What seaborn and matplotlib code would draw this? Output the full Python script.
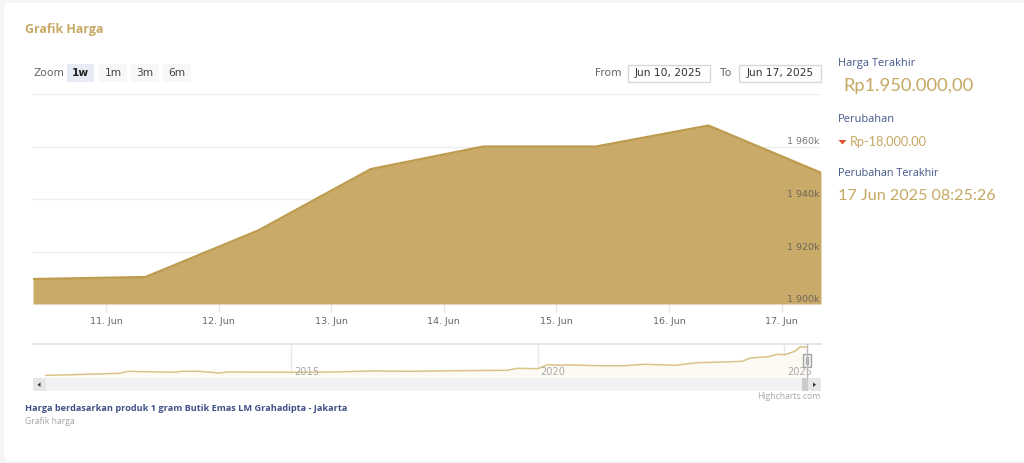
"""Gold price widget: 1 week area chart with a navigator strip."""

import matplotlib

matplotlib.use("Agg")

import matplotlib.dates as mdates
import matplotlib.pyplot as plt
import pandas as pd
import seaborn as sns
from matplotlib.patches import FancyBboxPatch, Polygon, Rectangle

# main chart, price in thousand rupiah
price_times = [
    "2025-06-10 08:25", "2025-06-11 08:25", "2025-06-12 08:25", "2025-06-13 08:25",
    "2025-06-14 08:25", "2025-06-15 08:25", "2025-06-16 08:25", "2025-06-17 08:25",
]
price_values = [1909.5, 1910.3, 1928, 1951.4, 1960, 1960, 1968, 1950]
day_ticks = ["2025-06-11", "2025-06-12", "2025-06-13", "2025-06-14", "2025-06-15", "2025-06-16", "2025-06-17"]
day_labels = ["11. Jun", "12. Jun", "13. Jun", "14. Jun", "15. Jun", "16. Jun", "17. Jun"]
price_ticks = [1900, 1920, 1940, 1960, 1980]
price_labels = ["1 900k", "1 920k", "1 940k", "1 960k", ""]

# navigator, long history
nav_times = [
    "2010-01-10", "2010-05-15", "2011-07-10", "2011-09-10", "2012-08-10", "2012-10-15",
    "2013-02-20", "2013-07-20", "2013-09-15", "2014-12-25", "2015-11-05", "2016-08-05",
    "2017-06-20", "2018-05-15", "2019-05-20", "2019-08-05", "2020-01-01", "2020-03-20",
    "2020-06-15", "2020-08-10", "2021-03-25", "2021-10-05", "2022-03-05", "2022-10-15",
    "2023-03-25", "2023-10-05", "2024-02-25", "2024-04-25", "2024-09-05", "2024-11-10",
    "2025-01-05", "2025-03-20", "2025-05-01", "2025-06-17",
]
nav_values = [
    567, 581, 665, 763, 714, 763, 763, 679, 728, 714, 728, 777, 763, 792, 812, 910, 890,
    1090, 1060, 1080, 1037, 1037, 1106, 1057, 1184, 1218, 1252, 1414, 1478, 1596, 1576,
    1743, 1968, 1950,
]
nav_years = ["2015-01-01", "2020-01-01", "2025-01-01"]
nav_year_labels = ["2015", "2020", "2025"]

GOLD_FILL = "#c9aa68"
GOLD_LINE = "#bd9c50"
GOLD_TEXT = "#c5a862"
NAVY_TEXT = "#44568a"
GREY_TEXT = "#666666"
UI_FONT = "DejaVu Sans"
PANEL_FONT = "Open Sans"
VALUE_FONT = "Lato"

sns.set_theme(style="white")
plt.rcParams["font.family"] = [UI_FONT]

W, H = 1024, 463
fig = plt.figure(figsize=(W / 100, H / 100), dpi=100, facecolor="#f5f5f5")


def px_axes(x0, y0, x1, y1, **kwargs):
    return fig.add_axes([x0 / W, 1 - y1 / H, (x1 - x0) / W, (y1 - y0) / H], **kwargs)


# page layer in pixel coordinates
page = px_axes(0, 0, W, H)
page.set_xlim(0, W)
page.set_ylim(H, 0)
page.axis("off")
page.add_patch(FancyBboxPatch((9, 8), 1020, 448, boxstyle="round,pad=5,rounding_size=6", fc="white", ec="none"))


def label(x, y, text, size, color, family=UI_FONT, weight="normal", ha="left"):
    page.text(x, y, text, fontsize=size, color=color, family=family, weight=weight, ha=ha, va="center")


label(25, 29, "Grafik Harga", 8.9, GOLD_TEXT, PANEL_FONT, "bold")

label(33, 73.5, "Zoom", 7.7, GREY_TEXT)
for x0, x1, text, selected in [(67, 94, "1w", True), (99, 127, "1m", False), (131, 159, "3m", False), (163, 191, "6m", False)]:
    page.add_patch(Rectangle((x0, 64), x1 - x0, 18, fc="#e6ebf5" if selected else "#f7f7f7", ec="none"))
    label((x0 + x1) / 2, 73, text, 7.7, "#222222" if selected else "#444444", weight="bold" if selected else "normal", ha="center")

label(595, 73, "From", 7.7, GREY_TEXT)
label(720, 73, "To", 7.7, GREY_TEXT)
for x0, x1, text in [(627.5, 709.5, "Jun 10, 2025"), (739, 821, "Jun 17, 2025")]:
    page.add_patch(Rectangle((x0, 64.5), x1 - x0, 17.5, fc="white", ec="#d8d8d8", lw=1))
    label((x0 + x1) / 2, 73, text, 7.7, "#333333", ha="center")

# right hand panel
label(838, 63.5, "Harga Terakhir", 7.9, NAVY_TEXT, PANEL_FONT)
label(843, 86, "Rp1.950.000,00", 13.2, GOLD_TEXT, VALUE_FONT)
label(838, 119.5, "Perubahan", 7.9, NAVY_TEXT, PANEL_FONT)
page.add_patch(Polygon([(838.5, 140), (846.5, 140), (842.5, 144.5)], fc="#e0522c", ec="none"))
label(850, 142, "Rp-18,000.00", 9.2, GOLD_TEXT, VALUE_FONT)
label(838, 173, "Perubahan Terakhir", 7.8, NAVY_TEXT, PANEL_FONT)
label(838, 195.5, "17 Jun 2025 08:25:26", 11.6, GOLD_TEXT, VALUE_FONT)

# footer
label(25, 408, "Harga berdasarkan produk 1 gram Butik Emas LM Grahadipta - Jakarta", 6.6, "#3f5186", PANEL_FONT, "bold")
label(25, 421.5, "Grafik harga", 6.2, "#a5a5a5", PANEL_FONT)
label(820.5, 396.5, "Highcharts.com", 6.2, "#a8a8a8", PANEL_FONT, ha="right")

# main area chart
price_df = pd.DataFrame({"time": pd.to_datetime(price_times), "price": price_values})
ax = px_axes(33, 94, 821, 304)
ax.patch.set_alpha(0)
ax.fill_between(price_df["time"], price_df["price"], 1900, color=GOLD_FILL, lw=0, zorder=2)
sns.lineplot(data=price_df, x="time", y="price", ax=ax, color=GOLD_LINE, linewidth=1.6, zorder=3)
ax.set_xlim(price_df["time"].iloc[0], price_df["time"].iloc[-1])
ax.set_ylim(1900, 1980)
ax.set_xlabel("")
ax.set_ylabel("")
ax.set_xticks(pd.to_datetime(day_ticks))
ax.set_xticklabels(day_labels, fontsize=6.8, color="#666666")
ax.tick_params(axis="x", length=6, width=1, color="#e4e4e4", pad=3, bottom=True)
ax.set_yticks(price_ticks)
ax.set_yticklabels([])
ax.tick_params(axis="y", length=0)
ax.grid(axis="y", color="#eeeeee", lw=1)
ax.set_axisbelow(True)
for spine in ax.spines.values():
    spine.set_visible(False)

# price labels sit above the area, so they get their own axis on top
price_axis = ax.twinx()
price_axis.set_ylim(1900, 1980)
price_axis.set_yticks(price_ticks)
price_axis.set_yticklabels(price_labels, fontsize=6.8, color="#555555", ha="right", va="bottom", alpha=0.8)
price_axis.tick_params(axis="y", length=0, pad=-1)
price_axis.grid(False)
for spine in price_axis.spines.values():
    spine.set_visible(False)

# navigator
nav_df = pd.DataFrame({"time": pd.to_datetime(nav_times), "price": nav_values})
nav = px_axes(33, 344, 821, 378)
nav.patch.set_alpha(0)
nav.fill_between(nav_df["time"], nav_df["price"], 434, color="#fcfaf3", lw=0, zorder=1)
sns.lineplot(data=nav_df, x="time", y="price", ax=nav, color="#d9c387", linewidth=1.1, zorder=3)
nav.set_xlim(pd.Timestamp("2009-10-08"), pd.Timestamp("2025-09-30"))
nav.set_ylim(434, 2100)
nav.set_xlabel("")
nav.set_ylabel("")
nav.set_yticks([])
nav.set_xticks(pd.to_datetime(nav_years))
nav.set_xticklabels([])
nav.tick_params(axis="x", length=0)
nav.grid(axis="x", color="#e8e8e8", lw=1, zorder=0)
for when, text in zip(pd.to_datetime(nav_years), nav_year_labels):
    nav.annotate(text, (mdates.date2num(when), 0), xycoords=nav.get_xaxis_transform(), xytext=(3, 6), textcoords="offset pixels",
                 fontsize=7.1, color="#aaaaaa", ha="left", va="center", zorder=4)
for spine in nav.spines.values():
    spine.set_visible(False)
nav.spines["top"].set_visible(True)
nav.spines["top"].set_color("#e2e2e2")
nav.spines["top"].set_linewidth(1.2)

# scrollbar and handle, on top of everything
ui = px_axes(0, 0, W, H)
ui.set_xlim(0, W)
ui.set_ylim(H, 0)
ui.axis("off")
ui.patch.set_alpha(0)
ui.add_patch(Rectangle((33, 378), 788, 13, fc="#f2f2f2", ec="none"))
ui.add_patch(Rectangle((33, 378), 12.5, 13, fc="#e6e6e6", ec="none"))
ui.add_patch(Rectangle((808, 378), 13, 13, fc="#e6e6e6", ec="none"))
ui.add_patch(Rectangle((802, 378), 6, 13, fc="#cccccc", ec="none"))
ui.add_patch(Polygon([(40.5, 382.5), (40.5, 387), (37.5, 384.7)], fc="#333333", ec="none"))
ui.add_patch(Polygon([(813, 382.5), (813, 387), (816, 384.7)], fc="#333333", ec="none"))
ui.plot([807, 807], [344, 378], color="#bbbbbb", lw=1)
ui.add_patch(Rectangle((803, 354), 8, 13, fc="#f2f2f2", ec="#a5a5a5", lw=1))
ui.plot([806, 806], [357, 364], color="#a5a5a5", lw=0.7)
ui.plot([808, 808], [357, 364], color="#a5a5a5", lw=0.7)

fig.savefig("out.png", dpi=100, facecolor=fig.get_facecolor())
plt.close(fig)
